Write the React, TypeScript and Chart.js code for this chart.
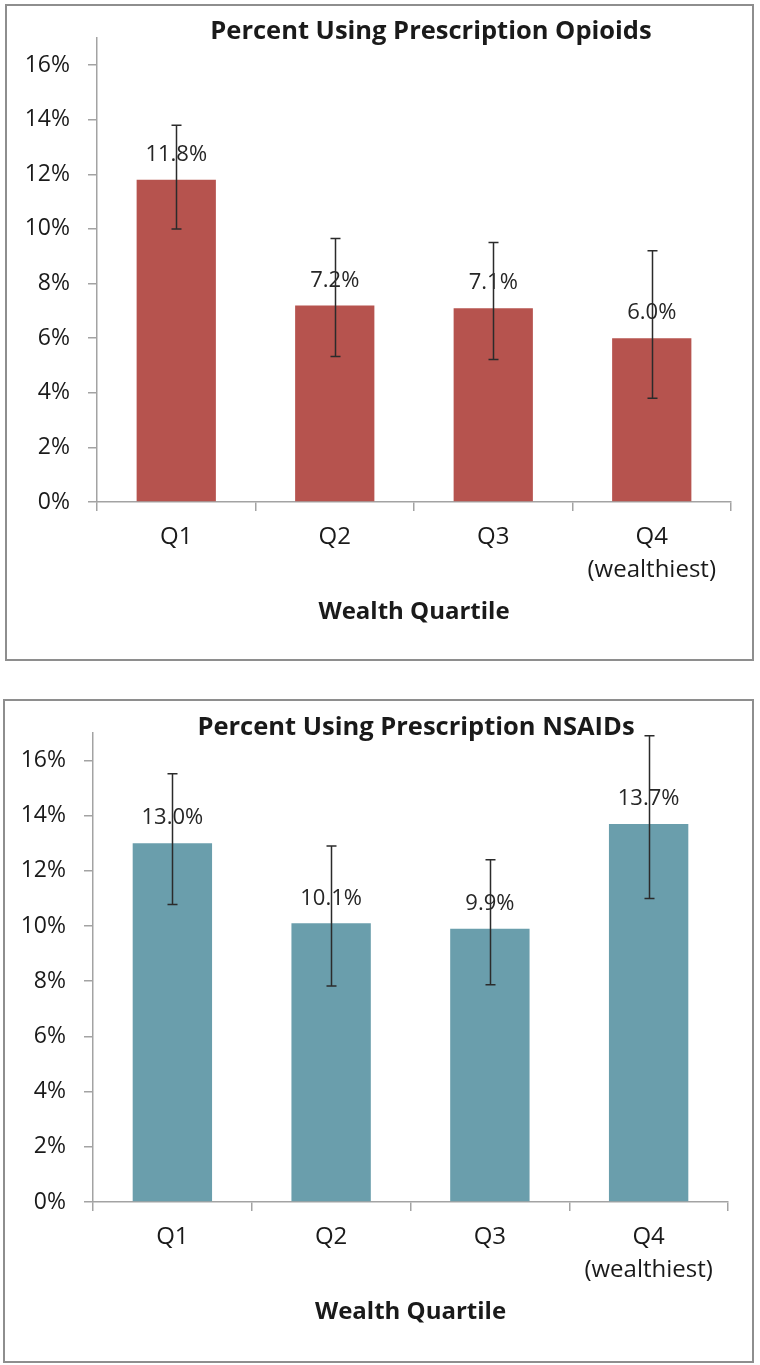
import React, { useEffect, useRef } from 'react';
import { Chart, registerables } from 'chart.js';

Chart.register(...registerables);

// ---- Data ----
const categories = [['Q1'], ['Q2'], ['Q3'], ['Q4', '(wealthiest)']];
const axisTitle = 'Wealth Quartile';

const opioidTitle = 'Percent Using Prescription Opioids';
const opioidValues = [11.8, 7.2, 7.1, 6.0];
const opioidLower = [10.0, 5.33, 5.22, 3.8];
const opioidUpper = [13.8, 9.65, 9.5, 9.2];

const nsaidTitle = 'Percent Using Prescription NSAIDs';
const nsaidValues = [13.0, 10.1, 9.9, 13.7];
const nsaidLower = [10.78, 7.83, 7.87, 11.0];
const nsaidUpper = [15.52, 12.9, 12.4, 16.89];

const yMax = 17;
const yStep = 2;
const yLastTick = 16;

const FONT = '"Open Sans", Lato, sans-serif';
const TEXT = '#1a1a1a';
const AXIS = '#a3a3a3';

const decorPlugin = {
  id: 'decor',
  afterDatasetsDraw(chart: any, _args: any, opts: any) {
    const ctx = chart.ctx;
    const yScale = chart.scales.y;
    const meta = chart.getDatasetMeta(0);
    const values = chart.data.datasets[0].data as number[];
    const area = chart.chartArea;
    ctx.save();
    // data labels
    ctx.font = `400 ${opts.labelSize}px ${FONT}`;
    ctx.fillStyle = '#262626';
    ctx.textAlign = 'center';
    ctx.textBaseline = 'middle';
    meta.data.forEach((bar: any, i: number) => {
      const y = yScale.getPixelForValue(values[i]);
      ctx.fillText(values[i].toFixed(1) + '%', bar.x, y - opts.labelOffset);
    });
    // error bars
    ctx.strokeStyle = '#2b2b2b';
    ctx.lineWidth = 1.5;
    meta.data.forEach((bar: any, i: number) => {
      const yl = yScale.getPixelForValue(opts.lower[i]);
      const yu = yScale.getPixelForValue(opts.upper[i]);
      const x = Math.round(bar.x) + 0.5;
      ctx.beginPath();
      ctx.moveTo(x, yl);
      ctx.lineTo(x, yu);
      ctx.moveTo(x - 5, yl);
      ctx.lineTo(x + 5, yl);
      ctx.moveTo(x - 5, yu);
      ctx.lineTo(x + 5, yu);
      ctx.stroke();
    });
    // chart title
    ctx.font = `700 ${opts.titleSize}px ${FONT}`;
    ctx.fillStyle = TEXT;
    ctx.fillText(opts.title, opts.titleX, opts.titleY);
    // axis title
    ctx.font = `700 ${opts.axisTitleSize}px ${FONT}`;
    ctx.fillText(axisTitle, (area.left + area.right) / 2, area.bottom + 110);
    ctx.restore();
  },
};

type Props = {
  title: string;
  values: number[];
  lower: number[];
  upper: number[];
  color: string;
  box: { left: number; top: number; width: number; height: number };
  yAxisWidth: number;
  padTop: number;
  padRight: number;
  xAxisHeight: number;
  titleX: number;
  titleY: number;
};

function BarChart(p: Props) {
  const ref = useRef<HTMLCanvasElement | null>(null);
  useEffect(() => {
    if (!ref.current) return;
    const chart = new Chart(ref.current, {
      type: 'bar',
      data: {
        labels: categories as any,
        datasets: [
          {
            data: p.values,
            backgroundColor: p.color,
            borderWidth: 0,
            categoryPercentage: 1,
            barPercentage: 0.5,
          },
        ],
      },
      plugins: [decorPlugin],
      options: {
        animation: false,
        responsive: false,
        devicePixelRatio: 1,
        layout: { padding: { top: p.padTop, right: p.padRight, left: 0, bottom: 0 } },
        plugins: {
          legend: { display: false },
          tooltip: { enabled: false },
          title: { display: false },
          decor: {
            lower: p.lower,
            upper: p.upper,
            title: p.title,
            titleX: p.titleX,
            titleY: p.titleY,
            titleSize: 25.5,
            axisTitleSize: 24,
            labelSize: 22,
            labelOffset: 25,
          },
        } as any,
        scales: {
          x: {
            offset: true,
            grid: {
              offset: true,
              drawOnChartArea: false,
              drawTicks: true,
              tickLength: 9,
              color: AXIS,
              lineWidth: 1.5,
            },
            border: { display: true, color: AXIS, width: 1.5 },
            ticks: {
              color: TEXT,
              font: { family: FONT, size: 24, lineHeight: 1.4 },
              padding: 9,
              maxRotation: 0,
              autoSkip: false,
            },
            afterFit(scale: any) {
              scale.height = p.xAxisHeight;
            },
          },
          y: {
            min: 0,
            max: yMax,
            bounds: 'data',
            grid: {
              drawOnChartArea: false,
              drawTicks: true,
              tickLength: 9,
              color: AXIS,
              lineWidth: 1.5,
            },
            border: { display: true, color: AXIS, width: 1.5 },
            ticks: {
              stepSize: yStep,
              includeBounds: false,
              color: TEXT,
              font: { family: FONT, size: 23 },
              padding: 18,
              callback: (v: any) => `${v}%`,
            },
            afterBuildTicks(scale: any) {
              scale.ticks = scale.ticks.filter((t: any) => t.value <= yLastTick);
            },
            afterFit(scale: any) {
              scale.width = p.yAxisWidth;
            },
          },
        },
      } as any,
    });
    return () => chart.destroy();
  }, []);

  const bw = 2;
  return (
    <div
      style={{
        position: 'absolute',
        left: p.box.left,
        top: p.box.top,
        width: p.box.width - 2 * bw,
        height: p.box.height - 2 * bw,
        border: `${bw}px solid #8e8e8e`,
        background: '#fff',
      }}
    >
      <canvas
        ref={ref}
        width={p.box.width - 2 * bw}
        height={p.box.height - 2 * bw}
        style={{ display: 'block' }}
      />
    </div>
  );
}

export default function App() {
  return (
    <div style={{ position: 'absolute', left: 0, top: 0, width: 760, height: 1365, background: '#fff' }}>
      <BarChart
        title={opioidTitle}
        values={opioidValues}
        lower={opioidLower}
        upper={opioidUpper}
        color="#B6534E"
        box={{ left: 5, top: 4, width: 749, height: 657 }}
        yAxisWidth={90}
        padTop={29}
        padRight={21}
        xAxisHeight={157}
        titleX={424}
        titleY={26}
      />
      <BarChart
        title={nsaidTitle}
        values={nsaidValues}
        lower={nsaidLower}
        upper={nsaidUpper}
        color="#6A9EAC"
        box={{ left: 3, top: 699, width: 751, height: 664 }}
        yAxisWidth={88}
        padTop={28}
        padRight={24}
        xAxisHeight={159}
        titleX={411}
        titleY={27}
      />
    </div>
  );
}
